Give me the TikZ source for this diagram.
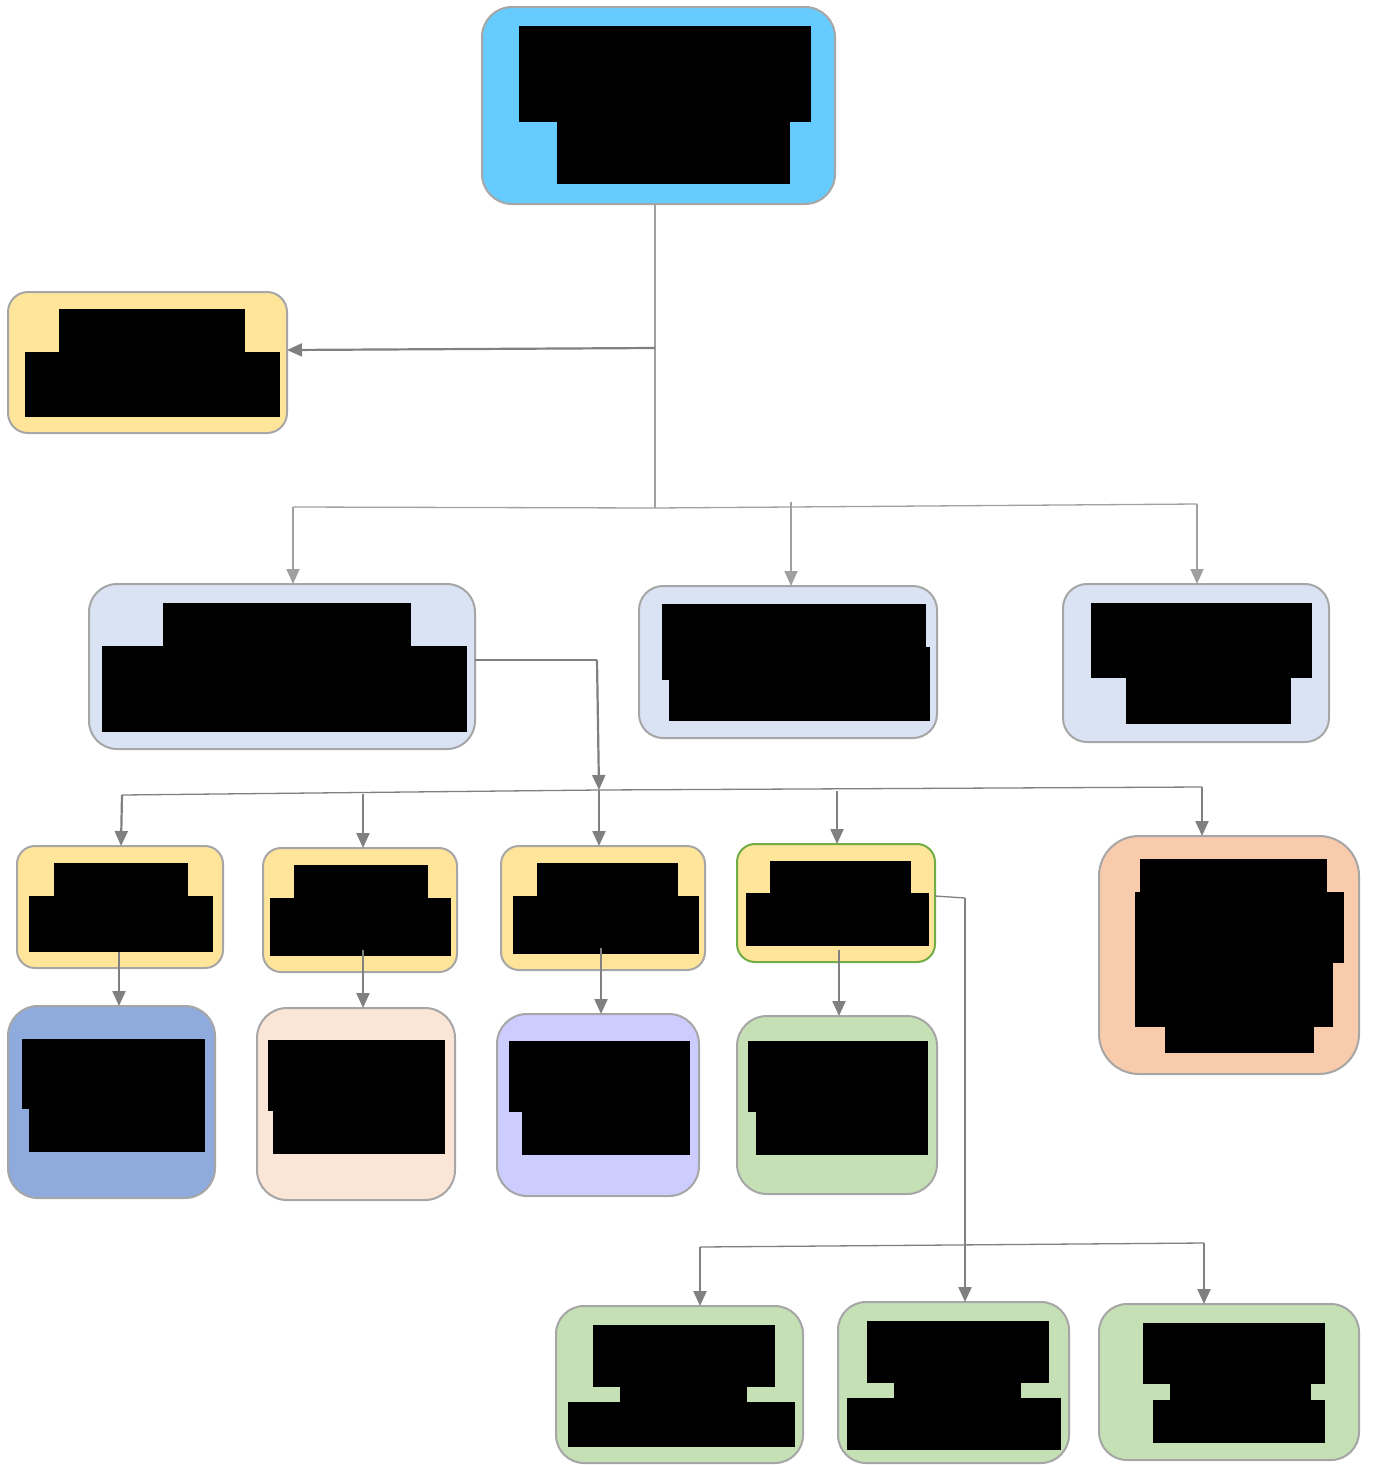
\documentclass[tikz,border=0pt]{standalone}
\usetikzlibrary{arrows.meta}
\definecolor{bordergray}{HTML}{A6A6A6}
\definecolor{linedark}{HTML}{808080}
\definecolor{linelight}{HTML}{A0A0A0}
\definecolor{topblue}{HTML}{66CCFF}
\definecolor{yel}{HTML}{FFE599}
\definecolor{paleblue}{HTML}{DAE3F3}
\definecolor{peach}{HTML}{F8CBAD}
\definecolor{midblue}{HTML}{8FAADC}
\definecolor{lightpeach}{HTML}{FBE5D6}
\definecolor{lavender}{HTML}{CCCCFF}
\definecolor{palegreen}{HTML}{C5E0B4}
\definecolor{grnborder}{HTML}{70AD47}
\newcommand\mybox[7]{%
  \node[boxst, fill=#6, rounded corners=#7, minimum width={#4-#2}, minimum height={#5-#3}] (#1) at ({(#2+#4)/2},{(#3+#5)/2}) {};}
\newcommand\blk[4]{\fill[black] (#1,#2) rectangle (#3,#4);}
\begin{document}
\begin{tikzpicture}[x=1pt,y=-1pt,
  boxst/.style={draw=bordergray, line width=2pt, inner sep=0pt, outer sep=0pt},
  darrow/.style={draw=linedark, line width=2.2pt, -{Triangle[length=15pt,width=13pt]}},
  larrow/.style={draw=linelight, line width=1.8pt, -{Triangle[length=15pt,width=13pt]}},
  dline/.style={draw=linedark, line width=1.3pt},
  lline/.style={draw=linelight, line width=1.3pt}]
\useasboundingbox (0,0) rectangle (1373,1465);
% boxes
\mybox{top}{482}{7}{835}{204}{topblue}{30pt}
\mybox{lft}{8}{292}{287}{433}{yel}{20pt}
\mybox{ba}{89}{584}{475}{749}{paleblue}{28pt}
\mybox{bb}{639}{586}{937}{738}{paleblue}{24pt}
\mybox{bc}{1063}{584}{1329}{742}{paleblue}{24pt}
\mybox{ca}{17}{846}{223}{968}{yel}{18pt}
\mybox{cb}{263}{848}{457}{972}{yel}{18pt}
\mybox{cc}{501}{846}{705}{970}{yel}{18pt}
\node[boxst, draw=grnborder, fill=yel, rounded corners=18pt, minimum width=198, minimum height=118] (cd) at (836,903) {};
\mybox{ce}{1099}{836}{1359}{1074}{peach}{40pt}
\mybox{da}{8}{1006}{215}{1198}{midblue}{30pt}
\mybox{db}{257}{1008}{455}{1200}{lightpeach}{30pt}
\mybox{dc}{497}{1014}{699}{1196}{lavender}{30pt}
\mybox{dd}{737}{1016}{937}{1194}{palegreen}{30pt}
\mybox{ea}{556}{1306}{803}{1463}{palegreen}{28pt}
\mybox{eb}{838}{1302}{1069}{1463}{palegreen}{28pt}
\mybox{ec}{1099}{1304}{1359}{1460}{palegreen}{28pt}
% redacted text blocks
\blk{519}{26}{811}{122}\blk{557}{121}{790}{184}
\blk{59}{309}{245}{353}\blk{25}{352}{280}{417}
\blk{163}{603}{411}{647}\blk{102}{646}{467}{732}
\blk{662}{604}{926}{680}\blk{662}{647}{930}{680}\blk{669}{679}{930}{721}
\blk{1091}{603}{1312}{678}\blk{1126}{677}{1291}{724}
\blk{54}{863}{188}{897}\blk{29}{896}{213}{952}
\blk{294}{865}{428}{899}\blk{270}{898}{451}{956}
\blk{537}{863}{678}{897}\blk{513}{896}{699}{954}
\blk{770}{861}{911}{894}\blk{746}{893}{929}{946}
\blk{1140}{859}{1327}{893}\blk{1135}{892}{1344}{963}\blk{1135}{962}{1333}{1027}\blk{1165}{1026}{1314}{1053}
\blk{22}{1039}{205}{1109}\blk{29}{1108}{205}{1152}
\blk{268}{1040}{445}{1111}\blk{273}{1110}{445}{1154}
\blk{509}{1041}{690}{1112}\blk{522}{1111}{690}{1155}
\blk{748}{1041}{928}{1112}\blk{756}{1111}{928}{1155}
\blk{593}{1325}{775}{1387}\blk{620}{1386}{747}{1403}\blk{568}{1402}{795}{1447}
\blk{867}{1321}{1049}{1383}\blk{894}{1382}{1021}{1399}\blk{847}{1398}{1061}{1450}
\blk{1143}{1323}{1325}{1384}\blk{1170}{1383}{1311}{1401}\blk{1153}{1400}{1325}{1443}
% junction coordinates
\coordinate (j1) at (655,348);
\coordinate (j2) at (655,508);
\coordinate (h1) at (293,507);
\coordinate (h2) at (791,504);
\coordinate (h3) at (1197,504);
\coordinate (k0) at (597,660);
\coordinate (k1) at (599,790);
\coordinate (m1) at (122,795);
\coordinate (m2) at (363,794);
\coordinate (m4) at (837,791);
\coordinate (m5) at (1202,787);
\coordinate (p0) at (965,898);
\coordinate (q1) at (700,1247);
\coordinate (q2) at (1204,1243);
% connectors
\path[lline] (top.south -| j2) -- (j2);
\path[darrow] (j1) -- (lft.east |- 0,350);
\path[lline] (h1) -- (j2) -- (h3);
\path[larrow] (h1) -- (ba.north -| h1);
\path[larrow] (791,502) -- (bb.north -| h2);
\path[larrow] (h3) -- (bc.north -| h3);
\path[dline] (ba.east |- k0) -- (k0);
\path[darrow] (k0) -- (k1);
\path[dline] (m1) -- (k1) -- (m5);
\path[darrow] (m1) -- (ca.north -| 121,0);
\path[darrow] (m2) -- (cb.north -| m2);
\path[darrow] (k1) -- (cc.north -| k1);
\path[darrow] (m4) -- (cd.north -| m4);
\path[darrow] (m5) -- (ce.north -| m5);
\path[darrow] (119,952) -- (da.north -| 119,0);
\path[darrow] (363,950) -- (db.north -| 363,0);
\path[darrow] (601,948) -- (dc.north -| 601,0);
\path[darrow] (839,950) -- (dd.north -| 839,0);
\path[dline] (cd.east |- 0,896) -- (p0);
\path[darrow] (p0) -- (eb.north -| p0);
\path[dline] (q1) -- (q2);
\path[darrow] (q1) -- (ea.north -| q1);
\path[darrow] (q2) -- (ec.north -| q2);
\end{tikzpicture}
\end{document}
